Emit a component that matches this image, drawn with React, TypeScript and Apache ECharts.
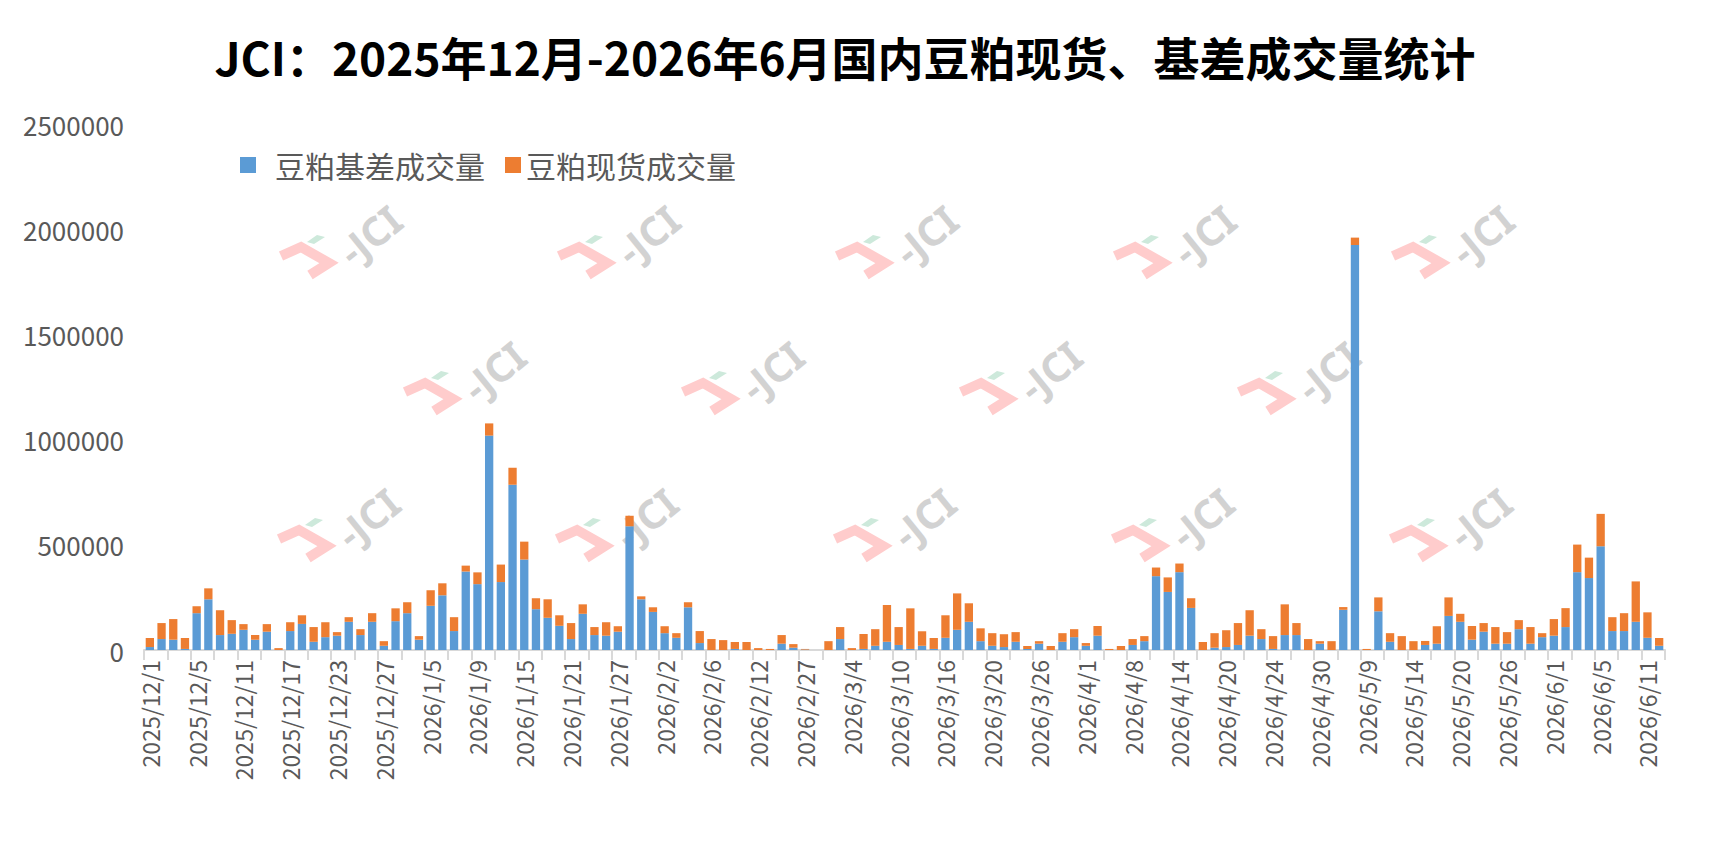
import React, { useEffect, useRef } from "react";
import * as echarts from "echarts";

const TITLE = "JCI：2025年12月-2026年6月国内豆粕现货、基差成交量统计";
const SERIES_NAMES = ["豆粕基差成交量", "豆粕现货成交量"];

const dates = [
  "2025/12/1", "2025/12/2", "2025/12/3", "2025/12/4", "2025/12/5", "2025/12/8", "2025/12/9", "2025/12/10",
  "2025/12/11", "2025/12/12", "2025/12/15", "2025/12/16", "2025/12/17", "2025/12/18", "2025/12/19", "2025/12/22",
  "2025/12/23", "2025/12/24", "2025/12/25", "2025/12/26", "2025/12/27", "2025/12/29", "2025/12/30", "2025/12/31",
  "2026/1/5", "2026/1/6", "2026/1/7", "2026/1/8", "2026/1/9", "2026/1/12", "2026/1/13", "2026/1/14",
  "2026/1/15", "2026/1/16", "2026/1/19", "2026/1/20", "2026/1/21", "2026/1/22", "2026/1/23", "2026/1/26",
  "2026/1/27", "2026/1/28", "2026/1/29", "2026/1/30", "2026/2/2", "2026/2/3", "2026/2/4", "2026/2/5",
  "2026/2/6", "2026/2/9", "2026/2/10", "2026/2/11", "2026/2/12", "2026/2/13", "2026/2/25", "2026/2/26",
  "2026/2/27", "2026/2/28", "2026/3/2", "2026/3/3", "2026/3/4", "2026/3/5", "2026/3/6", "2026/3/9",
  "2026/3/10", "2026/3/11", "2026/3/12", "2026/3/13", "2026/3/16", "2026/3/17", "2026/3/18", "2026/3/19",
  "2026/3/20", "2026/3/23", "2026/3/24", "2026/3/25", "2026/3/26", "2026/3/27", "2026/3/30", "2026/3/31",
  "2026/4/1", "2026/4/2", "2026/4/3", "2026/4/7", "2026/4/8", "2026/4/9", "2026/4/10", "2026/4/13",
  "2026/4/14", "2026/4/15", "2026/4/16", "2026/4/17", "2026/4/20", "2026/4/21", "2026/4/22", "2026/4/23",
  "2026/4/24", "2026/4/27", "2026/4/28", "2026/4/29", "2026/4/30", "2026/5/6", "2026/5/7", "2026/5/8",
  "2026/5/9", "2026/5/11", "2026/5/12", "2026/5/13", "2026/5/14", "2026/5/15", "2026/5/18", "2026/5/19",
  "2026/5/20", "2026/5/21", "2026/5/22", "2026/5/25", "2026/5/26", "2026/5/27", "2026/5/28", "2026/5/29",
  "2026/6/1", "2026/6/2", "2026/6/3", "2026/6/4", "2026/6/5", "2026/6/8", "2026/6/9", "2026/6/10",
  "2026/6/11", "2026/6/12",
];

// 豆粕基差成交量
const basisVolume = [
  14000, 52000, 49000, 5000, 175000, 241000, 71000, 77000,
  96000, 49000, 87000, 0, 90000, 124000, 39000, 61000,
  68000, 134000, 71000, 134000, 20000, 137000, 175000, 49000,
  210000, 260000, 90000, 373000, 313000, 1019000, 323000, 786000,
  430000, 194000, 153000, 115000, 52000, 172000, 71000, 68000,
  87000, 588000, 241000, 181000, 80000, 58000, 203000, 33000,
  0, 0, 5000, 0, 0, 0, 30000, 11000,
  2000, 0, 0, 52000, 0, 5000, 20000, 39000,
  24000, 5000, 20000, 5000, 58000, 96000, 134000, 42000,
  20000, 14000, 39000, 5000, 30000, 0, 39000, 61000,
  20000, 68000, 0, 0, 24000, 42000, 351000, 276000,
  370000, 200000, 0, 11000, 14000, 24000, 68000, 52000,
  5000, 71000, 71000, 0, 30000, 0, 191000, 1925000,
  0, 184000, 39000, 0, 0, 24000, 30000, 162000,
  134000, 49000, 87000, 30000, 30000, 99000, 30000, 61000,
  68000, 109000, 370000, 342000, 493000, 90000, 90000, 134000,
  58000, 20000,
];

// 豆粕现货成交量
const spotVolume = [
  43000, 76000, 98000, 52000, 33000, 52000, 118000, 65000,
  27000, 22000, 36000, 9000, 42000, 41000, 70000, 71000,
  17000, 22000, 28000, 41000, 22000, 61000, 52000, 17000,
  74000, 57000, 66000, 28000, 56000, 58000, 83000, 80000,
  85000, 52000, 88000, 50000, 76000, 45000, 38000, 64000,
  26000, 50000, 14000, 22000, 33000, 22000, 24000, 57000,
  52000, 47000, 33000, 38000, 9000, 5000, 41000, 17000,
  3000, 0, 42000, 57000, 9000, 71000, 79000, 175000,
  85000, 193000, 69000, 52000, 107000, 173000, 88000, 61000,
  60000, 61000, 46000, 14000, 12000, 19000, 41000, 38000,
  13000, 46000, 5000, 19000, 28000, 24000, 41000, 69000,
  41000, 46000, 38000, 69000, 80000, 104000, 121000, 47000,
  61000, 146000, 57000, 52000, 12000, 42000, 13000, 35000,
  5000, 66000, 41000, 66000, 42000, 19000, 83000, 88000,
  38000, 65000, 41000, 79000, 55000, 43000, 79000, 19000,
  79000, 90000, 131000, 97000, 154000, 66000, 85000, 192000,
  121000, 37000,
];

const Y_MAX = 2500000;
const Y_STEP = 500000;

const FONT = '"Noto Sans CJK SC", "Noto Sans", sans-serif';
const BLUE = "#5B9BD5";
const ORANGE = "#ED7D31";
const GREY_TEXT = "#595959";

const WM_ROWS = [
  { y: 204, xs: [280, 558, 836, 1114, 1392] },
  { y: 340, xs: [404, 682, 960, 1238] },
  { y: 487, xs: [278, 556, 834, 1112, 1390] },
];

function watermark(x: number, y: number) {
  return {
    type: "group",
    x,
    y,
    silent: true,
    children: [
      {
        type: "polyline",
        shape: { points: [[1, 52], [21, 43], [49, 59], [30, 71]] },
        style: { stroke: "#ffcccc", lineWidth: 10, fill: null, lineJoin: "miter" },
      },
      {
        type: "polygon",
        shape: { points: [[27, 38], [37, 31], [45, 33], [34, 40]] },
        style: { fill: "#cde9db" },
      },
      {
        type: "text",
        x: 90,
        y: 31,
        rotation: 0.68,
        style: {
          text: "-JCI",
          fontSize: 40,
          fontWeight: "bold",
          fontFamily: '"Noto Sans", sans-serif',
          fill: "#d2d2d2",
          align: "center",
          verticalAlign: "middle",
          textAlign: "center",
          textVerticalAlign: "middle",
        },
      },
    ],
  };
}

export default function App() {
  const ref = useRef<HTMLDivElement>(null);

  useEffect(() => {
    document.body.style.margin = "0";
    if (!ref.current) return;
    const chart = echarts.init(ref.current, undefined, { renderer: "svg" });

    const graphics: any[] = [];
    WM_ROWS.forEach((r) => r.xs.forEach((x) => graphics.push(watermark(x, r.y))));
    graphics.push({
      type: "text",
      x: 845,
      y: 56,
      style: {
        text: TITLE,
        font: `bold 46px ${FONT}`,
        fill: "#000000",
        align: "center",
        verticalAlign: "middle",
        textAlign: "center",
        textVerticalAlign: "middle",
      },
    });

    chart.setOption({
      animation: false,
      backgroundColor: "#ffffff",
      textStyle: { fontFamily: FONT },
      graphic: graphics,
      legend: {
        data: [
          { name: SERIES_NAMES[0], textStyle: { padding: [0, 0, 0, 14] } },
          { name: SERIES_NAMES[1], textStyle: { padding: [0, 0, 0, 0] } },
        ],
        left: 240,
        top: 150,
        padding: 0,
        icon: "rect",
        itemWidth: 16,
        itemHeight: 16,
        itemGap: 20,
        textStyle: { fontSize: 30, color: GREY_TEXT, fontFamily: FONT },
      },
      grid: { left: 144, right: 68, top: 124, bottom: 214, containLabel: false },
      xAxis: {
        type: "category",
        data: dates,
        boundaryGap: true,
        axisLine: { show: true, lineStyle: { color: "#d9d9d9", width: 2 } },
        axisTick: { show: true, interval: 1, length: 10, lineStyle: { color: "#d9d9d9", width: 2 } },
        axisLabel: {
          interval: 3,
          rotate: 90,
          color: GREY_TEXT,
          fontSize: 23,
          fontFamily: FONT,
          margin: 10,
        },
        splitLine: { show: false },
      },
      yAxis: {
        type: "value",
        min: 0,
        max: Y_MAX,
        interval: Y_STEP,
        axisLine: { show: false },
        axisTick: { show: false },
        splitLine: { show: false },
        axisLabel: {
          color: GREY_TEXT,
          fontSize: 26,
          fontFamily: FONT,
          margin: 20,
          formatter: (v: number) => String(v),
        },
      },
      series: [
        {
          name: SERIES_NAMES[0],
          type: "bar",
          stack: "total",
          data: basisVolume,
          barWidth: "71%",
          itemStyle: { color: BLUE },
        },
        {
          name: SERIES_NAMES[1],
          type: "bar",
          stack: "total",
          data: spotVolume,
          barWidth: "71%",
          itemStyle: { color: ORANGE },
        },
      ],
    });

    return () => chart.dispose();
  }, []);

  return <div ref={ref} style={{ width: 1733, height: 864 }} />;
}
